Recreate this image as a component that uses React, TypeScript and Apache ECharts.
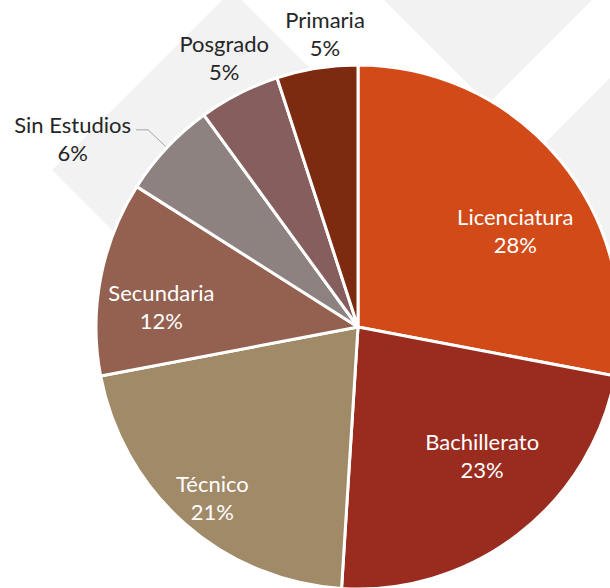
import React, { useEffect, useRef } from "react";
import * as echarts from "echarts";

const categories = ["Licenciatura", "Bachillerato", "Técnico", "Secundaria", "Sin Estudios", "Posgrado", "Primaria"];
const values = [28, 23, 21, 12, 6, 5, 5];
const colors = ["#D24A18", "#9A2B1F", "#A08A68", "#946150", "#8E8281", "#855E5D", "#7C2B10"];
// label nudges from the library's "inside" placement (dx, dy)
const labelNudges: (number[] | null)[] = [
  [54, -11],
  [42, 23],
  [-57, 70],
  [-65, 5],
  null,
  [-73, -150],
  [-12, -161],
];

const BG = "#F2F2F2";

export default function App() {
  const ref = useRef<HTMLDivElement>(null);
  useEffect(() => {
    if (!ref.current) return;
    const chart = echarts.init(ref.current, undefined, { renderer: "svg" });
    const font = "Lato, 'Open Sans', sans-serif";
    const data = categories.map((name, i) => {
      const item: any = {
        name,
        value: values[i],
        itemStyle: { color: colors[i] },
      };
      if (i === 4) {
        item.label = {
          position: "outside",
          color: "#262626",
          padding: [17, 0, 0, 0],
          formatter: "{n|{b}}\n{p|{d}%}",
          rich: {
            n: { align: "center", color: "#262626", fontSize: 22, fontFamily: font, lineHeight: 28 },
            p: { align: "center", color: "#262626", fontSize: 22, fontFamily: font, lineHeight: 28 },
          },
        };
        item.labelLine = { show: true, length: 26, length2: 12, lineStyle: { color: "#A6A6A6", width: 1 } };
      } else if (i >= 5) {
        item.label = { position: "inside", color: "#262626" };
      }
      return item;
    });
    chart.setOption({
      animation: false,
      backgroundColor: "#FFFFFF",
      graphic: [
        {
          type: "polygon",
          z: 0,
          shape: { points: [[52, 170], [232, -10], [412, 170], [232, 350]] },
          style: { fill: BG },
        },
        {
          type: "polygon",
          z: 0,
          shape: { points: [[288, -96], [488, 104], [688, -96], [488, -296]] },
          style: { fill: BG },
        },
        {
          type: "polygon",
          z: 0,
          shape: { points: [[520, 168], [720, -32], [920, 168], [720, 368]] },
          style: { fill: BG },
        },
      ],
      series: [
        {
          type: "pie",
          z: 5,
          center: [358, 327],
          radius: 262,
          startAngle: 90,
          clockwise: true,
          avoidLabelOverlap: false,
          itemStyle: { borderColor: "#FFFFFF", borderWidth: 3 },
          label: {
            show: true,
            position: "inside",
            formatter: "{b}\n{d}%",
            color: "#FFFFFF",
            fontSize: 22,
            lineHeight: 28,
            fontFamily: font,
            align: "center",
          },
          labelLine: { show: false },
          labelLayout: (p: any) => {
            const n = labelNudges[p.dataIndex];
            return n ? { dx: n[0], dy: n[1] } : {};
          },
          emphasis: { disabled: true },
          data,
        },
      ],
    });
    return () => chart.dispose();
  }, []);
  return (
    <div
      ref={ref}
      style={{ position: "absolute", left: 0, top: 0, width: 610, height: 588 }}
    />
  );
}
